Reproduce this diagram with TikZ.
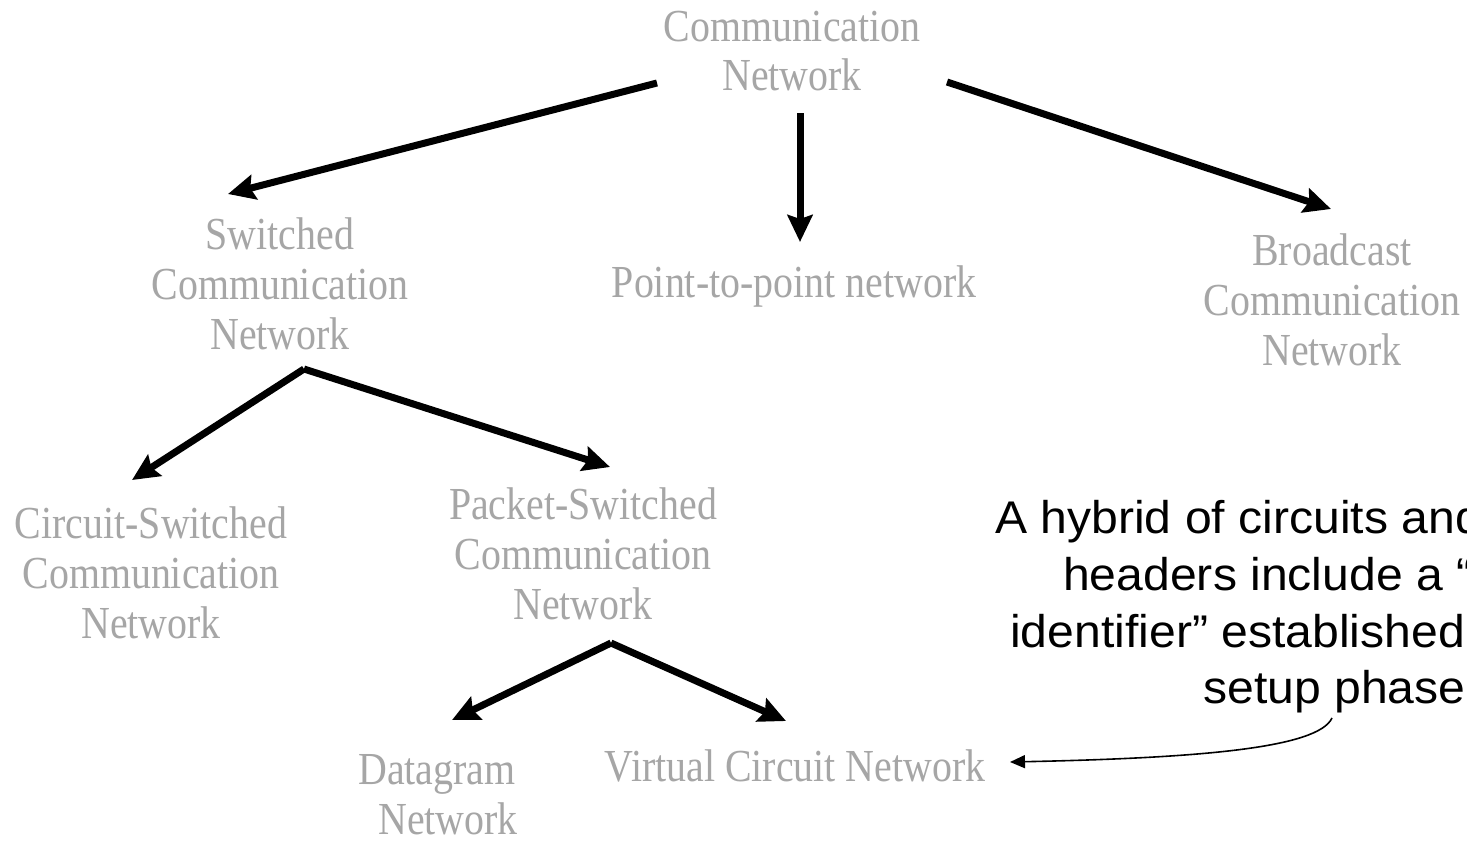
\documentclass[tikz,border=0pt]{standalone}
\usepackage{fontspec}
\newfontfamily\grfont[FakeStretch=0.87]{Liberation Serif}
\newfontfamily\arfont[FakeStretch=1.05]{Liberation Sans}
\usetikzlibrary{arrows.meta}
\definecolor{txtgray}{RGB}{166,166,166}
\tikzset{
  lbl/.style={font=\grfont\fontsize{46}{50}\selectfont, text=txtgray, align=center, inner sep=0pt},
  note/.style={font=\arfont\fontsize{46}{56}\selectfont, text=black, inner sep=0pt},
  bigarrow/.style={line width=7bp, -{Stealth[length=27bp,width=25bp,inset=4bp]}},
  thinarrow/.style={line width=1.6bp, -{Triangle[length=15bp,width=13bp]}}
}
\begin{document}
\begin{tikzpicture}[x=1bp,y=-1bp]
\fill[white] (0,0) rectangle (1467,841);
\useasboundingbox (0,0) rectangle (1467,841);

% tree labels
\node[lbl] (top) at (792,51) {Communication\\Network};
\node[lbl] (sw)  at (280,284) {Switched\\Communication\\Network};
\node[lbl] (p2p) at (794,286) {Point-to-point network};
\node[lbl] (bc)  at (1332,300) {Broadcast\\Communication\\Network};
\node[lbl] (cs)  at (151,573) {Circuit-Switched\\Communication\\Network};
\node[lbl] (ps)  at (583,554) {Packet-Switched\\Communication\\Network};
\node[lbl] (dg)  at (437,795) {Datagram\\\hspace*{22bp}Network};
\node[lbl] (vc)  at (795,766) {Virtual Circuit Network};

% arrow end points
\coordinate (topL) at (657,83);
\coordinate (topM) at (800,113);
\coordinate (topR) at (947,82);
\coordinate (swIn) at (228,194);
\coordinate (p2pIn) at (800,242);
\coordinate (bcIn) at (1331,209);
\coordinate (swOut) at (304,369);
\coordinate (csIn) at (132,480);
\coordinate (psIn) at (610,467);
\coordinate (psOut) at (611,643);
\coordinate (dgIn) at (452,720);
\coordinate (vcIn) at (786,721);

\draw[bigarrow] (topL) -- (swIn);
\draw[bigarrow] (topM) -- (p2pIn);
\draw[bigarrow] (topR) -- (bcIn);
\draw[bigarrow] (swOut) -- (csIn);
\draw[bigarrow] (swOut) -- (psIn);
\draw[bigarrow] (psOut) -- (dgIn);
\draw[bigarrow] (psOut) -- (vcIn);

% annotation (cut off at the right edge)
\begin{scope}
\clip (0,0) rectangle (1467,841);
\node[note, anchor=base west] (n1) at (995,533) {A hybrid of circuits and packets;};
\node[note, anchor=base west] (n2) at (1063,590) {headers include a “virtual};
\node[note, anchor=base west] (n3) at (1010,647) {identifier” established during};
\node[note, anchor=base west] (n4) at (1203,703) {setup phase};
\end{scope}
\coordinate (noteOut) at (1332,718);
\coordinate (vcNote) at (1010,762);
\draw[thinarrow] (noteOut) .. controls (1318,748) and (1200,758) .. (vcNote);
\end{tikzpicture}
\end{document}
